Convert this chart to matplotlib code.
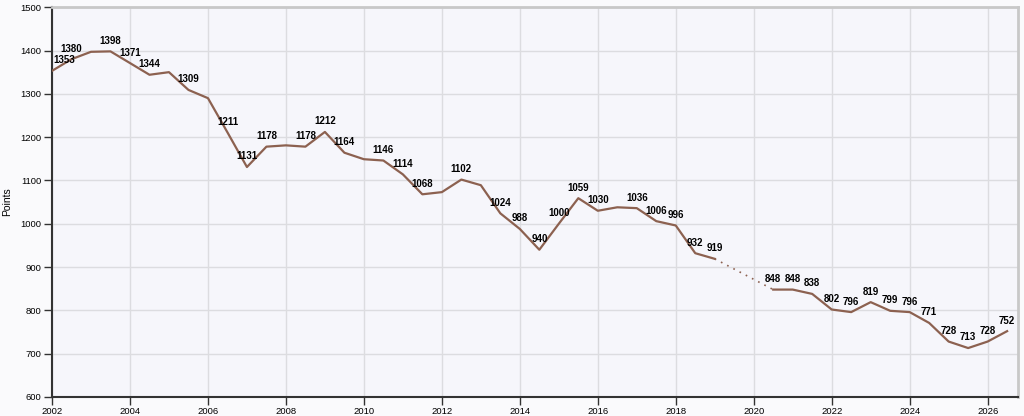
import matplotlib
matplotlib.use("Agg")
import matplotlib.pyplot as plt

plt.rcParams["font.family"] = ["Liberation Sans", "DejaVu Sans"]

# half-year points; the gap 2019.5-2020.0 is bridged with a dotted line
years_a = [2002.0, 2002.5, 2003.0, 2003.5, 2004.0, 2004.5, 2005.0, 2005.5, 2006.0,
           2006.5, 2007.0, 2007.5, 2008.0, 2008.5, 2009.0, 2009.5, 2010.0, 2010.5,
           2011.0, 2011.5, 2012.0, 2012.5, 2013.0, 2013.5, 2014.0, 2014.5, 2015.0,
           2015.5, 2016.0, 2016.5, 2017.0, 2017.5, 2018.0, 2018.5, 2019.0]
points_a = [1353, 1380, 1397, 1398, 1371, 1344, 1350, 1309, 1290,
            1211, 1131, 1178, 1181, 1178, 1212, 1164, 1149, 1146,
            1114, 1068, 1073, 1102, 1089, 1024, 988, 940, 1000,
            1059, 1030, 1038, 1036, 1006, 996, 932, 919]
shown_a = [1, 1, 0, 1, 1, 1, 0, 1, 0,
           1, 1, 1, 0, 1, 1, 1, 0, 1,
           1, 1, 0, 1, 0, 1, 1, 1, 1,
           1, 1, 0, 1, 1, 1, 1, 1]

years_b = [2020.5, 2021.0, 2021.5, 2022.0, 2022.5, 2023.0, 2023.5, 2024.0,
           2024.5, 2025.0, 2025.5, 2026.0, 2026.5]
points_b = [848, 848, 838, 802, 796, 819, 799, 796, 771, 728, 713, 728, 752]

line_color = "#8c6150"

fig = plt.figure(figsize=(10.24, 4.16), dpi=100, facecolor="#fafafc")
ax = fig.add_axes([0.0508, 0.0457, 0.943, 0.937])
ax.set_facecolor("#f6f6fb")

ax.plot(years_a, points_a, color=line_color, lw=1.6, zorder=3)
ax.plot(years_b, points_b, color=line_color, lw=1.6, zorder=3)
ax.plot([years_a[-1], years_b[0]], [points_a[-1], points_b[0]],
        color=line_color, lw=1.2, ls=(0, (1, 3.2)), zorder=3)

labels = [(x, y) for x, y, s in zip(years_a, points_a, shown_a) if s]
labels += list(zip(years_b, points_b))
for i, (x, y) in enumerate(labels):
    if i == 0:
        ax.annotate(str(y), (x, y), xytext=(1, 4), textcoords="offset points",
                    ha="left", va="bottom", fontsize=7, fontweight="bold", zorder=4)
    else:
        ax.annotate(str(y), (x, y), xytext=(0, 4), textcoords="offset points",
                    ha="center", va="bottom", fontsize=7, fontweight="bold", zorder=4)

ax.set_xlim(2002, 2026.77)
ax.set_ylim(600, 1500)
ax.set_xticks(range(2002, 2027, 2))
ax.set_yticks(range(600, 1501, 100))
ax.tick_params(labelsize=6.8, length=6, width=1, color="#333333", pad=1.5)
ax.grid(True, color="#dcdce0", lw=1)
ax.set_axisbelow(True)
ax.set_ylabel("Points", fontsize=7.5, labelpad=6)

for side in ["left", "bottom"]:
    ax.spines[side].set_color("#333333")
    ax.spines[side].set_linewidth(1.5)
for side in ["top", "right"]:
    ax.spines[side].set_color("#c8c8c8")
    ax.spines[side].set_linewidth(2)

fig.savefig("out.png", dpi=100, facecolor=fig.get_facecolor())
